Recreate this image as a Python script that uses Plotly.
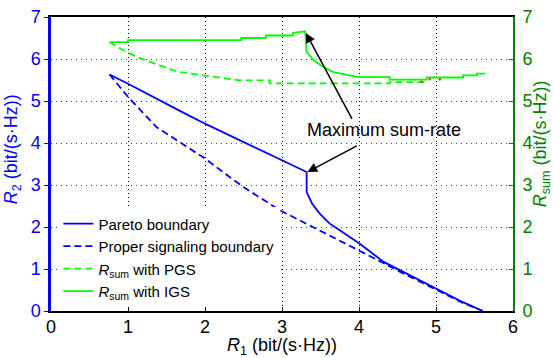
import plotly.graph_objects as go

# Pareto boundary (blue solid)
pareto_x = [0.76, 1.0, 1.68, 2.0, 3.0, 3.32, 3.32, 3.39, 3.49, 3.62, 3.75, 3.88, 4.01, 4.32, 4.58, 5.01, 5.35, 5.61]
pareto_y = [5.63, 5.41, 4.76, 4.46, 3.59, 3.31, 2.83, 2.56, 2.32, 2.08, 1.92, 1.76, 1.60, 1.17, 0.93, 0.53, 0.21, 0.0]

# Proper signaling boundary (blue dashed)
proper_x = [0.76, 1.0, 1.37, 1.68, 2.0, 2.32, 2.50, 2.97, 3.32, 3.75, 3.99, 4.58, 5.01, 5.35, 5.61]
proper_y = [5.63, 5.10, 4.38, 4.02, 3.63, 3.19, 2.95, 2.40, 2.08, 1.68, 1.45, 0.89, 0.50, 0.19, 0.0]

# R_sum with PGS (green dashed)
pgs_x = [0.76, 0.90, 1.11, 1.59, 1.68, 2.0, 2.45, 2.84, 2.84, 4.40, 4.40, 4.88]
pgs_y = [6.40, 6.25, 6.05, 5.73, 5.69, 5.61, 5.49, 5.49, 5.42, 5.42, 5.45, 5.45]

# R_sum with IGS (green solid)
igs_x = [0.76, 1.0, 1.0, 2.47, 2.47, 2.79, 2.79, 3.14, 3.14, 3.30, 3.32, 3.41, 3.54,
         3.67, 3.75, 3.99, 4.40, 4.40, 4.88, 4.88, 5.35, 5.35, 5.53, 5.53, 5.64]
igs_y = [6.40, 6.40, 6.45, 6.45, 6.50, 6.50, 6.56, 6.56, 6.62, 6.66, 6.17, 5.97, 5.81,
         5.69, 5.66, 5.57, 5.57, 5.51, 5.51, 5.56, 5.56, 5.61, 5.61, 5.65, 5.65]

# small red residue marks
red_x = [4.81, 4.92, 5.05]
red_y = [5.46, 5.52, 5.52]

x_ticks = [0, 1, 2, 3, 4, 5, 6]
y_ticks = [0, 1, 2, 3, 4, 5, 6, 7]

BLUE = "#0000FF"
GREEN = "#00FF00"
DKGREEN = "#008000"
FONT = "Liberation Sans, Arial, sans-serif"

fig = go.Figure()
fig.add_trace(go.Scatter(x=pareto_x, y=pareto_y, mode="lines", name="Pareto boundary",
                         line=dict(color=BLUE, width=1.8)))
fig.add_trace(go.Scatter(x=proper_x, y=proper_y, mode="lines", name="Proper signaling boundary",
                         line=dict(color=BLUE, width=1.8, dash="7px,4px")))
fig.add_trace(go.Scatter(x=pgs_x, y=pgs_y, mode="lines", name="<i>R</i><sub>sum</sub> with PGS",
                         line=dict(color=GREEN, width=1.8, dash="7px,4px"), yaxis="y2"))
fig.add_trace(go.Scatter(x=igs_x, y=igs_y, mode="lines", name="<i>R</i><sub>sum</sub> with IGS",
                         line=dict(color=GREEN, width=1.8), yaxis="y2"))
fig.add_trace(go.Scatter(x=red_x, y=red_y, mode="markers", showlegend=False,
                         marker=dict(color="#FF3030", size=2.5), yaxis="y2"))

fig.update_layout(
    width=553, height=358,
    margin=dict(l=51, r=40, t=17, b=47),
    plot_bgcolor="white", paper_bgcolor="white",
    font=dict(family=FONT, size=18, color="black"),
    showlegend=True,
    legend=dict(x=0.016, y=0.012, xanchor="left", yanchor="bottom",
                bgcolor="white", borderwidth=0, font=dict(size=15, family=FONT),
                tracegroupgap=0),
    xaxis=dict(range=[0, 6], tickvals=x_ticks, showline=True, linecolor="black", linewidth=2,
               mirror=True, ticks="inside", ticklen=4, tickcolor="black",
               showgrid=True, gridcolor="black", griddash="1px,3px", gridwidth=1,
               zeroline=False, automargin=False, tickfont=dict(size=18, color="black"),
               ticklabelstandoff=-2,
               title=dict(text="<i>R</i><sub>1</sub> (bit/(s·Hz))", font=dict(size=18), standoff=8)),
    yaxis=dict(range=[0, 7], tickvals=y_ticks, showline=True, linecolor=BLUE, linewidth=2.5,
               ticks="outside", ticklen=4, tickcolor=BLUE, showgrid=False, zeroline=False,
               automargin=False, tickfont=dict(size=18, color=BLUE)),
    yaxis2=dict(range=[0, 7], tickvals=y_ticks, overlaying="y", side="right", showline=True,
                linecolor=DKGREEN, linewidth=2, ticks="inside", ticklen=4, tickcolor=DKGREEN,
                showgrid=True, gridcolor=DKGREEN, griddash="1px,4px", gridwidth=1,
                zeroline=False, automargin=False, tickfont=dict(size=18, color=DKGREEN),
                ticklabelstandoff=4),
)

annotations = [
    dict(x=-0.084, y=0.551, xref="paper", yref="paper", xanchor="center", yanchor="middle",
         text="<i>R</i><sub>2</sub> (bit/(s·Hz))",
         textangle=-90, showarrow=False, font=dict(size=18, color=BLUE)),
    dict(x=1.061, y=0.568, xref="paper", yref="paper", xanchor="center", yanchor="middle",
         text="<i>R</i><sub>sum</sub> (bit/(s·Hz))",
         textangle=-90, showarrow=False, font=dict(size=18, color=DKGREEN)),
    dict(x=4.32, y=4.30, xref="x", yref="y", text="Maximum sum-rate", showarrow=False,
         font=dict(size=18, color="black")),
    dict(x=3.31, y=6.62, xref="x", yref="y", ax=3.92, ay=4.54, axref="x", ayref="y",
         text="", showarrow=True, arrowhead=2, arrowsize=1.3, arrowwidth=1.5, arrowcolor="black"),
    dict(x=3.33, y=3.31, xref="x", yref="y", ax=3.99, ay=3.95, axref="x", ayref="y",
         text="", showarrow=True, arrowhead=2, arrowsize=1.3, arrowwidth=1.5, arrowcolor="black"),
]
fig.update_layout(annotations=annotations)

# remove the default 8px page margin so the figure sits at the window's corner
fig.write_html("out.html", config={"displayModeBar": False},
               post_script="document.body.style.margin='0px';")
